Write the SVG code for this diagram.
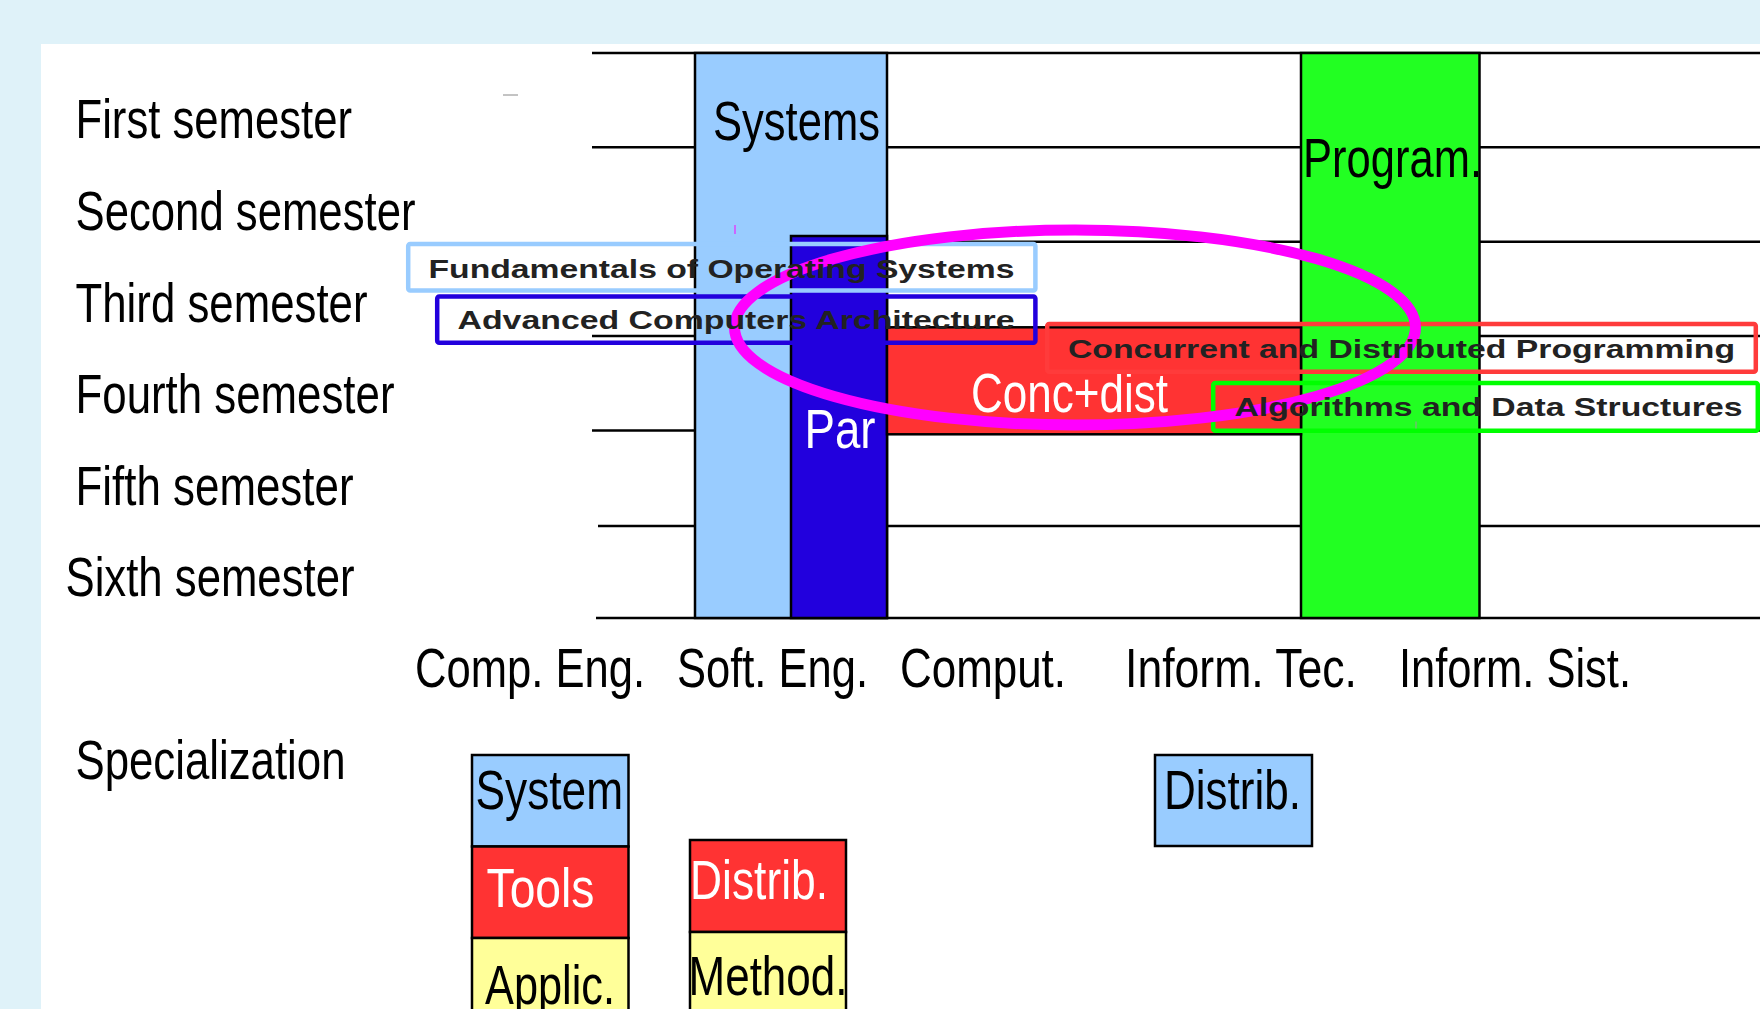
<svg xmlns="http://www.w3.org/2000/svg" width="1760" height="1009" viewBox="0 0 1760 1009">
<style>
.big{font-family:"Liberation Sans",Arial,sans-serif;font-size:55px;fill:#000}
.w{fill:#fff}
.crs{font-family:"Liberation Sans",Arial,sans-serif;font-size:25px;font-weight:bold;fill:#222}
.row{stroke:#000;stroke-width:2.5;fill:none}
.col{stroke:#000;stroke-width:2.5}
.box{fill:none;stroke-width:4.5}
</style>
<rect x="0" y="0" width="1760" height="1009" fill="#dff2f9"/>
<rect x="41" y="44" width="1719" height="965" fill="#fff"/>

<g id="labels">
<text class="big" x="75.5" y="138" textLength="276.5" lengthAdjust="spacingAndGlyphs">First semester</text>
<text class="big" x="75.5" y="229.5" textLength="340" lengthAdjust="spacingAndGlyphs">Second semester</text>
<text class="big" x="75.5" y="321.5" textLength="292" lengthAdjust="spacingAndGlyphs">Third semester</text>
<text class="big" x="75.5" y="412.5" textLength="319" lengthAdjust="spacingAndGlyphs">Fourth semester</text>
<text class="big" x="75.5" y="504.5" textLength="278" lengthAdjust="spacingAndGlyphs">Fifth semester</text>
<text class="big" x="65.5" y="596" textLength="289" lengthAdjust="spacingAndGlyphs">Sixth semester</text>
<text class="big" x="75.5" y="779" textLength="270" lengthAdjust="spacingAndGlyphs">Specialization</text>
<text class="big" x="415" y="687" textLength="230" lengthAdjust="spacingAndGlyphs">Comp. Eng.</text>
<text class="big" x="677" y="687" textLength="191" lengthAdjust="spacingAndGlyphs">Soft. Eng.</text>
<text class="big" x="900" y="687" textLength="166" lengthAdjust="spacingAndGlyphs">Comput.</text>
<text class="big" x="1125" y="687" textLength="232" lengthAdjust="spacingAndGlyphs">Inform. Tec.</text>
<text class="big" x="1399" y="687" textLength="232" lengthAdjust="spacingAndGlyphs">Inform. Sist.</text>
</g>

<g id="connectors">
<line class="row" x1="592" y1="53" x2="1760" y2="53"/>
<line class="row" x1="592" y1="147.3" x2="1760" y2="147.3"/>
<line class="row" x1="888" y1="241.7" x2="1760" y2="241.7"/>
<line class="row" x1="592" y1="336" x2="1760" y2="336"/>
<line class="row" x1="592" y1="430.5" x2="1760" y2="430.5"/>
<line class="row" x1="598" y1="526" x2="1760" y2="526"/>
<line class="row" x1="596" y1="618" x2="1760" y2="618"/>
<line x1="503" y1="95" x2="518" y2="95" stroke="#888" stroke-width="1"/>
</g>

<g id="col-systems">
<rect class="col" x="695" y="53" width="192" height="565" fill="#99ccff"/>
<text class="big" x="713" y="140" textLength="167" lengthAdjust="spacingAndGlyphs">Systems</text>
</g>
<g id="col-par">
<rect class="col" x="791" y="236" width="96" height="382" fill="#2200dd"/>
<text class="big w" x="804.5" y="448" textLength="71" lengthAdjust="spacingAndGlyphs">Par</text>
</g>
<g id="col-program">
<rect class="col" x="1301" y="53" width="178.5" height="565" fill="#22ff22"/>
<text class="big" x="1303" y="177" textLength="179" lengthAdjust="spacingAndGlyphs">Program.</text>
</g>
<g id="block-conc">
<rect class="col" x="887" y="327.3" width="414" height="107" fill="#ff3333"/>
<text class="big w" x="971" y="412" textLength="197" lengthAdjust="spacingAndGlyphs">Conc+dist</text>
</g>

<g id="box-fos">
<rect class="box" x="408.2" y="244" width="627.2" height="46.5" rx="2" stroke="#99ccff"/>
</g>
<g id="box-aca">
<rect class="box" x="437.2" y="296.5" width="598.2" height="46.2" rx="2" stroke="#2200dd"/>
</g>
<g id="box-cdp">
<rect class="box" x="1047.2" y="324" width="708.6" height="47.8" rx="2" stroke="#ff3b3b"/>
</g>
<g id="box-ads">
<rect class="box" x="1213.2" y="383" width="544.6" height="47.8" rx="2" stroke="#00ff00"/>
</g>

<g id="ellipse">
<ellipse cx="1075" cy="327.5" rx="340.5" ry="97.5" fill="none" stroke="#ff00ff" stroke-width="11"/>
<line x1="735" y1="225" x2="735" y2="234" stroke="#ff00ff" stroke-width="1"/>
<line x1="1416" y1="421.5" x2="1416" y2="428.5" stroke="#999" stroke-width="1"/>
</g>

<g id="course-texts">
<text class="crs" x="428.5" y="278" textLength="586" lengthAdjust="spacingAndGlyphs">Fundamentals of Operating Systems</text>
<text class="crs" x="457.5" y="329" textLength="557" lengthAdjust="spacingAndGlyphs">Advanced Computers Architecture</text>
<text class="crs" x="1068" y="358" textLength="667" lengthAdjust="spacingAndGlyphs">Concurrent and Distributed Programming</text>
<text class="crs" x="1234.5" y="416" textLength="508" lengthAdjust="spacingAndGlyphs">Algorithms and Data Structures</text>
</g>

<g id="spec-compeng">
<rect class="col" x="472" y="755" width="156.5" height="91.5" fill="#99ccff"/>
<rect class="col" x="472" y="846.5" width="156.5" height="91.5" fill="#ff3333"/>
<rect class="col" x="472" y="938" width="156.5" height="80" fill="#ffff99"/>
<text class="big" x="475.5" y="809" textLength="147.5" lengthAdjust="spacingAndGlyphs">System</text>
<text class="big w" x="486.5" y="907" textLength="108" lengthAdjust="spacingAndGlyphs">Tools</text>
<text class="big" x="485" y="1004" textLength="130" lengthAdjust="spacingAndGlyphs">Applic.</text>
</g>
<g id="spec-softeng">
<rect class="col" x="690" y="840" width="156" height="92" fill="#ff3333"/>
<rect class="col" x="690" y="932" width="156" height="86" fill="#ffff99"/>
<text class="big w" x="690" y="898.5" textLength="138" lengthAdjust="spacingAndGlyphs">Distrib.</text>
<text class="big" x="688.5" y="995" textLength="159" lengthAdjust="spacingAndGlyphs">Method.</text>
</g>
<g id="spec-inftec">
<rect class="col" x="1155" y="755" width="157" height="91" fill="#99ccff"/>
<text class="big" x="1164" y="809" textLength="137" lengthAdjust="spacingAndGlyphs">Distrib.</text>
</g>
</svg>
